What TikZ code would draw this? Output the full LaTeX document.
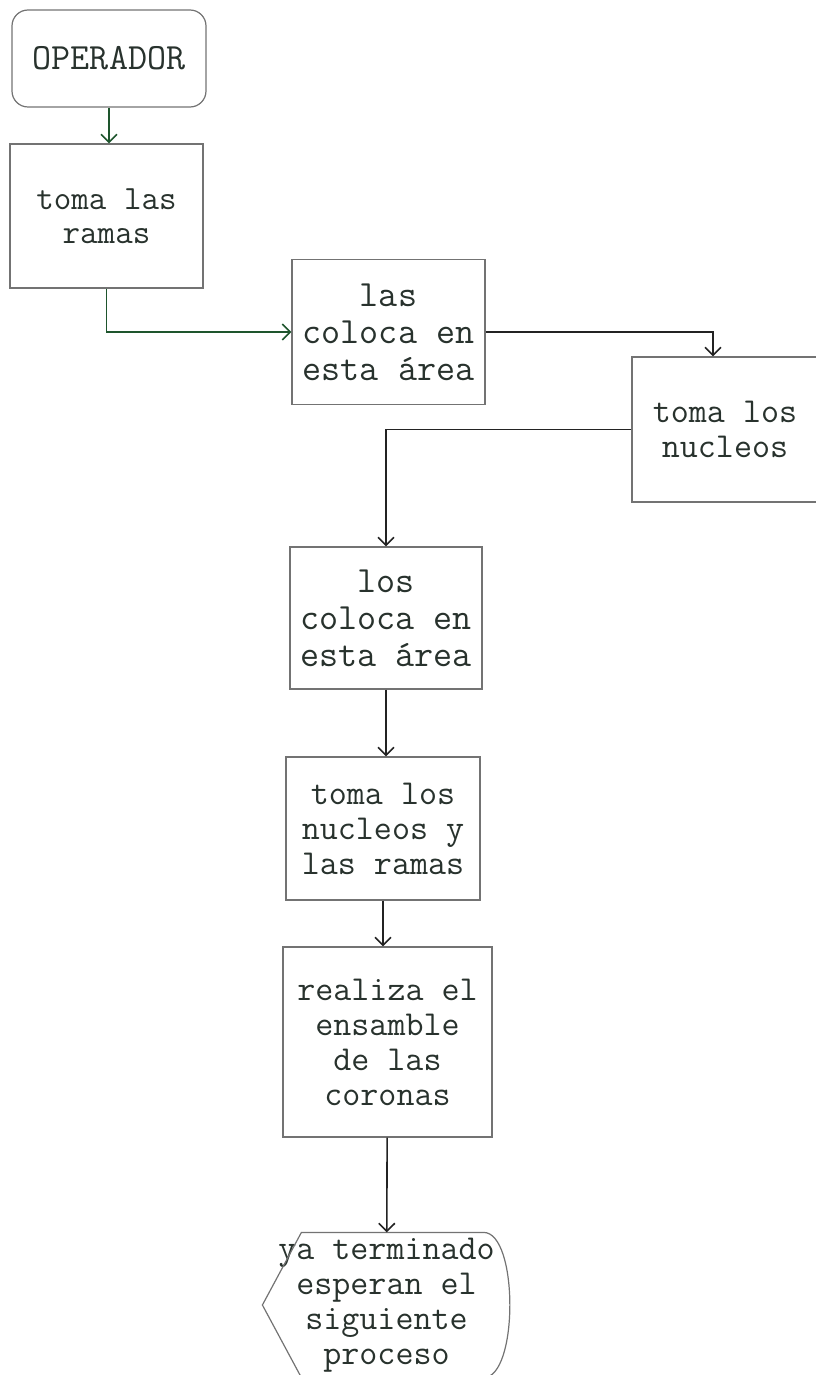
\documentclass[tikz,border=0pt]{standalone}
\usepackage{xcolor}
\usepackage{fontspec}
\usepackage{tikz}
\usetikzlibrary{arrows.meta, positioning, calc}
\definecolor{mygray}{RGB}{115,115,115}
\definecolor{mydark}{RGB}{35,35,35}
\definecolor{mygreen}{RGB}{30,85,45}
\definecolor{mytext}{RGB}{40,50,45}
\tikzset{
  block/.style={rectangle, draw=mygray, text=mytext, align=center, inner sep=2pt,
    font=\ttfamily\fontsize{17.5}{17.5}\selectfont, line width=0.6pt},
  arrow/.style={-{Straight Barb[length=4pt,width=8pt]}, line width=0.8pt, color=mydark},
  greenarrow/.style={-{Straight Barb[length=4pt,width=8pt]}, line width=0.8pt, color=mygreen}
}

\begin{document}
\begin{tikzpicture}[x=0.5pt, y=-0.5pt]
  \useasboundingbox (0,0) rectangle (815,1375);

  % Operator
  \node[block, rounded corners=8pt, minimum width=97pt, minimum height=48.5pt,
    font=\ttfamily\fontsize{18.5}{18}\selectfont]
    (oper) at (109, 58.5) {OPERADOR};

  % Takes the branches
  \node[block, minimum width=96.5pt, minimum height=72pt,
    font=\ttfamily\fontsize{17}{17}\selectfont]
    (ramas) at (106.5, 216) {toma las\\ramas};
  \draw[greenarrow] (oper) -- (oper |- ramas.north);

  % Puts them in this area
  \node[block, minimum width=96.5pt, minimum height=72.5pt,
    font=\ttfamily\fontsize{18.5}{18.5}\selectfont]
    (colocaR) at (388.5, 332) {las\\coloca en\\esta área};
  \draw[greenarrow] (ramas.south) |- (colocaR.west);

  % Takes the cores
  \node[block, minimum width=93pt, minimum height=72.5pt]
    (nucleos) at (725, 429.5) {toma los\\nucleos};
  \draw[arrow] (colocaR.east) -| ($(nucleos.north)+(-12,0)$);

  % Puts them in this area
  \node[block, minimum width=96pt, minimum height=71pt,
    font=\ttfamily\fontsize{18.5}{18.5}\selectfont]
    (colocaN) at (386, 618) {los\\coloca en\\esta área};
  \draw[arrow] (nucleos.west) -| (colocaN.north);

  % Takes cores and branches
  \node[block, minimum width=97pt, minimum height=71.5pt]
    (tomaNR) at (383, 828.5) {toma los\\nucleos y\\las ramas};
  \draw[arrow] (colocaN) -- (colocaN |- tomaNR.north);

  % Assembly
  \node[block, minimum width=104.5pt, minimum height=95pt]
    (ensamble) at (387.5, 1042) {realiza el\\ensamble\\de las\\coronas};
  \draw[arrow] (tomaNR) -- (tomaNR |- ensamble.north);

  % Finished, waiting (display shape)
  \node[block, draw=none, minimum width=123.5pt, minimum height=72pt]
    (fin) at (386.5, 1305) {ya terminado\\esperan el\\siguiente\\proceso};
  \draw[mygray, line width=0.6pt] (fin.west) -- ($(fin.north west)+(39,0)$)
    -- ($(fin.north east)+(-27,0)$)
    .. controls ($(fin.north east)+(8,0)$) and ($(fin.south east)+(8,0)$) .. ($(fin.south east)+(-27,0)$)
    -- ($(fin.south west)+(39,0)$) -- cycle;
  \draw[arrow] (ensamble) -- (fin);
\end{tikzpicture}
\end{document}
